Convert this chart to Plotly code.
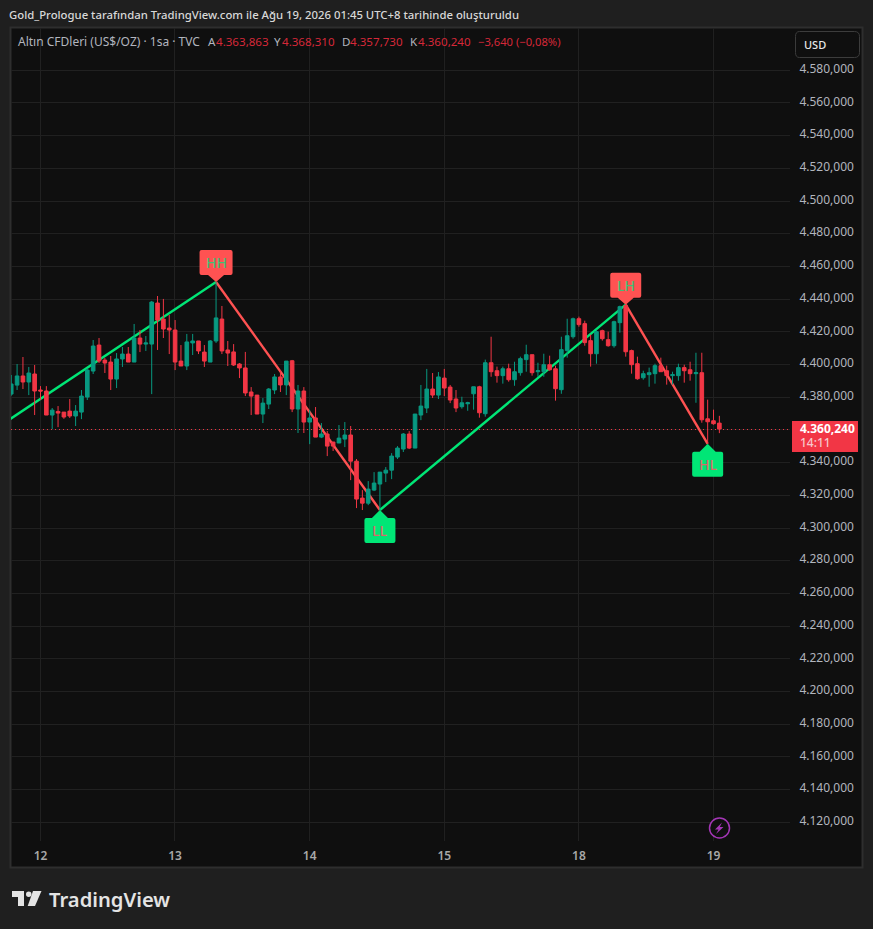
import math
import plotly.graph_objects as go

# ---------- data ----------
# one row per hourly bar: open, high, low, close
bars = [
(4381.6,4393.3,4380.6,4387.8),(4387.1,4400.0,4384.1,4392.7),(4392.7,4404.3,4384.7,4389.0),(4389.0,4398.2,4381.0,4394.5),
(4393.9,4399.4,4368.8,4383.5),(4384.1,4386.5,4378.0,4383.5),(4383.5,4386.5,4368.8,4368.8),(4368.8,4373.1,4360.2,4371.8),
(4371.0,4374.3,4361.4,4370.0),(4370.6,4370.6,4366.5,4367.6),(4371.2,4378.6,4367.0,4368.2),(4368.2,4374.9,4362.1,4371.2),
(4370.6,4384.1,4366.3,4380.4),(4379.8,4397.3,4378.0,4396.3),(4395.7,4414.7,4393.9,4411.0),(4411.6,4415.9,4400.6,4401.8),
(4402.4,4403.7,4394.5,4400.6),(4401.2,4404.9,4384.1,4390.8),(4390.8,4406.7,4385.3,4403.1),(4403.1,4410.4,4398.2,4406.1),
(4406.1,4410.4,4401.2,4401.2),(4401.2,4424.5,4401.2,4415.9),(4415.9,4420.8,4407.3,4412.2),(4412.2,4417.1,4408.0,4412.9),
(4412.2,4438.6,4381.6,4437.9),(4437.3,4441.6,4408.6,4426.9),(4427.5,4439.8,4415.9,4421.4),(4422.0,4430.0,4406.1,4420.8),
(4420.8,4426.9,4396.3,4401.2),(4401.8,4411.6,4398.8,4398.8),(4398.8,4418.4,4396.3,4413.5),(4412.9,4418.4,4405.5,4414.1),
(4414.1,4414.1,4406.1,4408.0),(4407.3,4411.6,4398.2,4401.8),(4401.2,4414.7,4401.2,4414.1),(4414.1,4450.2,4412.9,4428.2),
(4427.5,4435.5,4406.1,4408.0),(4408.6,4414.1,4398.8,4406.7),(4407.4,4412.2,4398.8,4399.4),(4400.0,4400.6,4391.4,4397.6),
(4397.6,4407.4,4380.4,4382.3),(4382.9,4385.9,4368.8,4380.4),(4381.0,4381.0,4369.4,4369.4),(4369.4,4379.2,4363.9,4376.1),
(4375.5,4385.3,4372.5,4384.7),(4384.1,4393.9,4381.6,4392.1),(4392.1,4396.3,4382.9,4387.2),(4387.2,4401.8,4381.0,4401.8),
(4402.0,4402.5,4370.6,4372.5),(4372.5,4387.2,4357.8,4383.5),(4383.5,4385.9,4357.8,4364.5),(4364.5,4371.9,4351.0,4367.0),
(4367.0,4373.7,4355.3,4355.3),(4355.3,4363.9,4354.7,4357.2),(4357.2,4359.0,4343.7,4349.8),(4352.3,4352.3,4346.8,4349.8),
(4351.7,4362.7,4351.7,4354.7),(4354.1,4364.5,4349.2,4356.6),(4356.6,4362.1,4329.0,4340.6),(4340.6,4341.9,4311.9,4317.4),
(4318.0,4322.9,4310.7,4314.9),(4314.9,4328.4,4313.7,4323.5),(4322.9,4333.9,4322.3,4327.2),(4326.6,4333.9,4310.7,4333.9),
(4333.3,4337.0,4327.8,4335.1),(4335.1,4345.5,4329.6,4343.7),(4343.1,4349.8,4341.9,4348.6),(4348.0,4357.8,4346.2,4357.2),
(4357.2,4359.0,4348.0,4348.6),(4348.6,4369.4,4348.6,4369.4),(4368.8,4387.2,4365.7,4374.3),(4373.1,4397.0,4370.0,4384.7),
(4384.7,4394.5,4379.2,4381.0),(4381.0,4395.1,4378.6,4392.1),(4391.4,4397.0,4380.4,4385.3),(4385.9,4387.2,4376.1,4378.0),
(4378.6,4384.1,4370.6,4373.1),(4373.9,4380.0,4372.7,4376.3),(4375.7,4376.9,4371.4,4376.3),(4381.8,4386.1,4372.1,4386.1),
(4386.1,4386.7,4367.2,4370.2),(4369.6,4402.7,4367.8,4400.8),(4400.8,4416.7,4392.2,4395.3),(4395.9,4398.4,4388.6,4392.9),
(4392.9,4398.4,4388.0,4397.1),(4397.1,4400.2,4389.2,4390.4),(4390.4,4401.4,4386.7,4395.3),(4394.7,4404.5,4392.9,4403.3),
(4402.7,4411.8,4395.3,4405.7),(4405.7,4405.7,4392.9,4394.7),(4395.3,4400.8,4392.2,4395.9),(4395.3,4406.3,4392.2,4399.6),
(4399.6,4405.1,4395.9,4396.5),(4397.1,4399.0,4377.6,4384.9),(4384.3,4416.7,4381.8,4408.8),(4408.2,4427.7,4403.9,4417.3),
(4416.7,4428.4,4415.5,4427.7),(4427.7,4429.0,4422.8,4424.1),(4424.7,4426.5,4411.2,4413.1),(4414.3,4418.0,4398.4,4406.3),
(4406.3,4421.0,4400.2,4419.8),(4420.4,4421.0,4414.3,4415.5),(4414.9,4419.8,4410.6,4411.2),(4411.2,4426.5,4410.0,4425.9),
(4425.3,4435.7,4419.2,4435.1),(4435.7,4436.3,4404.5,4407.5),(4408.2,4408.8,4394.1,4399.6),(4400.2,4404.5,4390.4,4391.0),
(4391.6,4395.9,4390.4,4394.1),(4393.5,4397.8,4386.1,4394.7),(4394.1,4400.2,4388.0,4399.0),(4399.0,4403.9,4395.3,4395.3),
(4395.9,4399.0,4387.4,4392.9),(4392.9,4395.3,4387.4,4393.5),(4392.9,4400.2,4389.8,4397.8),(4397.8,4399.6,4388.6,4395.9),
(4396.5,4401.4,4389.8,4394.1),(4394.1,4406.9,4376.3,4394.7),(4394.7,4406.9,4364.1,4365.9),(4366.5,4378.2,4351.2,4364.7),
(4365.3,4372.1,4362.9,4363.5),(4363.863,4368.31,4357.73,4360.24),
]
bar_index = list(range(1, len(bars) + 1))
day_bars = [6, 29, 52, 75, 98, 121]
day_labels = ["12", "13", "14", "15", "18", "19"]
price_ticks = list(range(4120, 4600, 20))
last_price = 4360.24

# zigzag pivots: bar number, price, label (first point lies off the left edge)
pivot_bars = [0, 36, 64, 106, 120]
pivot_prices = [4364.4, 4450.2, 4310.7, 4436.3, 4351.2]
pivot_names = ["HH", "LL", "LH", "HL"]

UP, DOWN = "#089981", "#F23645"
LINE_UP, LINE_DOWN = "#00E676", "#FF5252"
PAGE, PANE, GRID, FRAME = "#1F1F1F", "#0F0F0F", "#212121", "#2E2E2E"
TEXT = "#B2B5BE"
FONT = "Noto Sans"

W, H = 873, 929
L, R, T, B = 11, 790, 28, 841
X_RANGE = [0.96, 134.07]
Y_RANGE = [4108.3, 4605.5]


def px(x):
    return (x - L) / (R - L)


def py(y):
    return (B - y) / (B - T)


def x_pix(n):
    return L + (n - X_RANGE[0]) / (X_RANGE[1] - X_RANGE[0]) * (R - L)


def y_pix(p):
    return T + (Y_RANGE[1] - p) / (Y_RANGE[1] - Y_RANGE[0]) * (B - T)


def pg_path(cmds):
    """Page-pixel SVG path to paper coordinates."""
    out = []
    for c in cmds:
        if isinstance(c, str):
            out.append(c)
        else:
            out.append(f"{px(c[0]):.5f},{py(c[1]):.5f}")
    return " ".join(out)


def round_rect_rel(x0, y0, x1, y1, r):
    # pixel path (y upward) around an anchor
    return (f"M{x0+r},{y0} L{x1-r},{y0} Q{x1},{y0} {x1},{y0+r} L{x1},{y1-r} Q{x1},{y1} {x1-r},{y1} "
            f"L{x0+r},{y1} Q{x0},{y1} {x0},{y1-r} L{x0},{y0+r} Q{x0},{y0} {x0+r},{y0} Z")


fig = go.Figure()
fig.add_trace(go.Candlestick(
    x=bar_index,
    open=[b[0] for b in bars], high=[b[1] for b in bars],
    low=[b[2] for b in bars], close=[b[3] for b in bars],
    increasing=dict(line=dict(color=UP, width=1), fillcolor=UP),
    decreasing=dict(line=dict(color=DOWN, width=1), fillcolor=DOWN),
    whiskerwidth=0, showlegend=False, hoverinfo="skip",
))

shapes = []
# frame + pane
shapes.append(dict(type="rect", xref="paper", yref="paper", layer="below",
                   x0=px(10.5), x1=px(862.5), y0=py(867.5), y1=py(27.5),
                   fillcolor=PANE, line=dict(color=FRAME, width=2)))
# grid as shapes so it stays under the zigzag, snapped to whole pixels
for d in day_bars:
    xp = x_pix(d)
    off = math.floor(xp - 0.3) + 0.5 - xp
    shapes.append(dict(type="line", xref="x", yref="paper", layer="below", xsizemode="pixel", xanchor=d,
                       x0=off, x1=off, y0=0, y1=1, line=dict(color=GRID, width=1)))
for v in price_ticks:
    yp = y_pix(v)
    off = yp - (round(yp) + 0.5)
    shapes.append(dict(type="line", xref="paper", yref="y", layer="below", ysizemode="pixel", yanchor=v,
                       x0=0, x1=1, y0=off, y1=off, line=dict(color=GRID, width=1)))
# last price dotted
yp = y_pix(last_price)
off = yp - (math.floor(yp) + 0.5)
shapes.append(dict(type="line", xref="paper", yref="y", layer="below", ysizemode="pixel", yanchor=last_price,
                   x0=0, x1=1, y0=off, y1=off, line=dict(color=DOWN, width=1, dash="1px,3px")))
# zigzag
for i in range(len(pivot_bars) - 1):
    col = LINE_UP if pivot_prices[i + 1] > pivot_prices[i] else LINE_DOWN
    shapes.append(dict(type="line", xref="x", yref="y", layer="below",
                       x0=pivot_bars[i], x1=pivot_bars[i + 1], y0=pivot_prices[i], y1=pivot_prices[i + 1],
                       line=dict(color=col, width=2.4)))

annotations = []
# pivot badges
for k, name in enumerate(pivot_names):
    b, p = pivot_bars[k + 1], pivot_prices[k + 1]
    w = 16.5 if name == "HH" else 15.5
    if name in ("HH", "LH"):
        fill, txt = LINE_DOWN, "#45BE75"
        body = round_rect_rel(-w, 7, w, 32, 2)
        ptr = "M-8,7 L0,0 L8,7 Z"
        ys = 19.5
    else:
        fill, txt = LINE_UP, "#D9696A"
        body = round_rect_rel(-w, -33, w, -8, 2)
        ptr = "M-8,-8 L0,0 L8,-8 Z"
        ys = -20.5
    shapes.append(dict(type="path", xref="x", yref="y", xsizemode="pixel", ysizemode="pixel",
                       xanchor=b, yanchor=p, path=body + " " + ptr, fillcolor=fill, line=dict(width=0)))
    annotations.append(dict(x=b, y=p, xref="x", yref="y", text=name, showarrow=False, yshift=ys,
                            font=dict(family=FONT, size=14, color=txt, weight=500)))

# price tag
shapes.append(dict(type="path", xref="paper", yref="paper", fillcolor=DOWN, line=dict(width=0),
                   path=pg_path(["M", (792, 421), "L", (858, 421), "L", (858, 452), "L", (792, 452), "Z"])))
# USD button
shapes.append(dict(type="path", xref="paper", yref="paper", fillcolor=PANE,
                   line=dict(color="#3C3C3C", width=1),
                   path=pg_path(["M", (799.5, 31.5), "L", (854.5, 31.5), "Q", (859.5, 31.5), (859.5, 36.5),
                                 "L", (859.5, 52.5), "Q", (859.5, 57.5), (854.5, 57.5),
                                 "L", (799.5, 57.5), "Q", (795.5, 57.5), (795.5, 52.5),
                                 "L", (795.5, 36.5), "Q", (795.5, 31.5), (799.5, 31.5), "Z"])))
# lightning badge
shapes.append(dict(type="circle", xref="paper", yref="paper", x0=px(709.5), x1=px(729.5), y0=py(838), y1=py(818),
                   fillcolor=PANE, line=dict(color="#A336B5", width=1.5)))
shapes.append(dict(type="path", xref="paper", yref="paper", fillcolor="#A336B5", line=dict(width=0),
                   path=pg_path(["M", (722, 822.5), "L", (715, 829.5), "L", (718.5, 829.5), "L", (716, 834),
                                 "L", (723.5, 827), "L", (719.8, 827), "Z"])))
# TradingView mark
LOGO = "#E4E4E4"
shapes.append(dict(type="path", xref="paper", yref="paper", fillcolor=LOGO, line=dict(width=0),
                   path=pg_path(["M", (12, 891), "L", (24, 891), "L", (24, 906), "L", (18, 906), "L", (18, 897),
                                 "L", (12, 897), "Z"])))
shapes.append(dict(type="circle", xref="paper", yref="paper", x0=px(26), x1=px(31.5), y0=py(897), y1=py(891.5),
                   fillcolor=LOGO, line=dict(width=0)))
shapes.append(dict(type="path", xref="paper", yref="paper", fillcolor=LOGO, line=dict(width=0),
                   path=pg_path(["M", (33, 891), "L", (41.5, 891), "L", (35, 906), "L", (27.7, 906), "Z"])))


def page_text(x, y, text, size, color, anchor="left", weight="normal"):
    annotations.append(dict(x=px(x), y=py(y), xref="paper", yref="paper", text=text, showarrow=False,
                            xanchor=anchor, yanchor="middle", align=anchor,
                            font=dict(family=FONT, size=size, color=color, weight=weight), borderpad=0, borderwidth=0))


page_text(9, 15, "Gold_Prologue tarafından TradingView.com ile Ağu 19, 2026 01:45 UTC+8 tarihinde oluşturuldu",
          11.33, "#D8D8D8", weight=500)
page_text(18, 42, "Altın CFDleri (US$/OZ) · 1sa · TVC", 12, "#B2B5BE")
for x, lab, val in [(208, "A", "4.363,863"), (274, "Y", "4.368,310"), (342, "D", "4.357,730"), (410, "K", "4.360,240")]:
    page_text(x, 42, lab, 11.6, "#B2B5BE")
    page_text(x + 8, 42, val, 11.6, "#D62839")
page_text(478, 42, "−3,640 (−0,08%)", 11.2, "#D62839")
page_text(804, 44.5, "USD", 11, "#E8E8E8", weight=500)
page_text(800, 428.5, "4.360,240", 12, "#FFFFFF", weight=700)
page_text(800, 442, "14:11", 12, "#F7C6CB", weight=500)
page_text(49, 899, "TradingView", 20.2, LOGO, weight=600)

fig.update_layout(
    width=W, height=H, autosize=False,
    margin=dict(l=L, r=W - R, t=T, b=H - B, pad=0),
    paper_bgcolor=PAGE, plot_bgcolor="rgba(0,0,0,0)",
    boxgap=0.12, showlegend=False, shapes=shapes, annotations=annotations,
    xaxis=dict(range=X_RANGE, tickvals=day_bars, ticktext=day_labels, rangeslider=dict(visible=False),
               showgrid=False, zeroline=False, showline=False,
               ticks="outside", ticklen=4, tickcolor="rgba(0,0,0,0)",
               tickfont=dict(family=FONT, size=12, color="#A8A8A8", weight=600)),
    yaxis=dict(range=Y_RANGE, side="right", tickvals=price_ticks,
               ticktext=["" if v == 4360 else f"4.{v - 4000:03d},000" for v in price_ticks],
               showgrid=False, zeroline=False, showline=False,
               ticks="outside", ticklen=6, tickcolor="rgba(0,0,0,0)", ticklabelshift=-1,
               tickfont=dict(family=FONT, size=12, color=TEXT)),
)
fig.write_html("out.html", config={"displayModeBar": False}, post_script="document.body.style.margin='0';")
